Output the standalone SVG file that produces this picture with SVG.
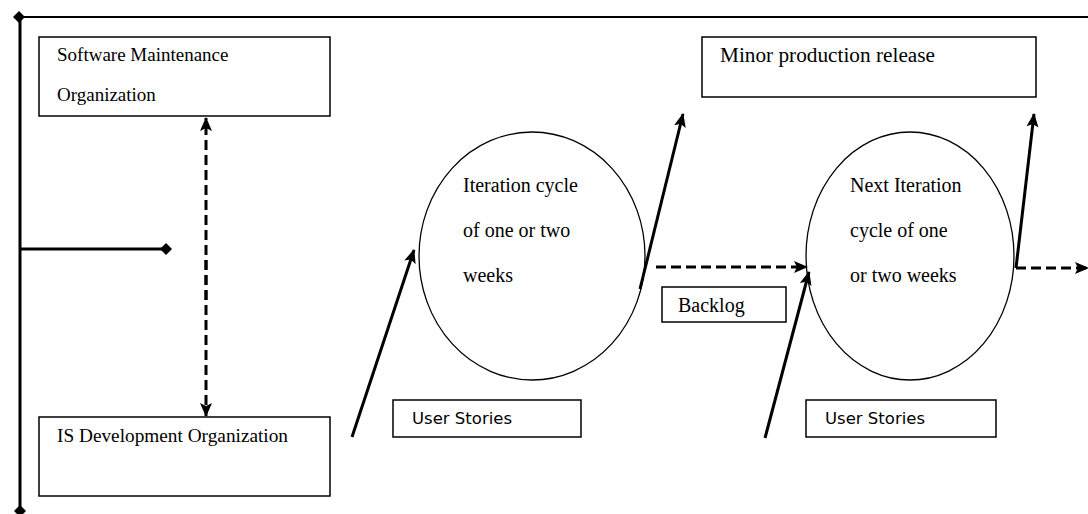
<svg xmlns="http://www.w3.org/2000/svg" width="1088" height="514" viewBox="0 0 1088 514">
<defs>
<marker id="ah" markerUnits="userSpaceOnUse" markerWidth="14" markerHeight="14" viewBox="0 0 14 14" refX="13" refY="7" orient="auto">
<path d="M0,1 L14,7 L0,13 L3,7 Z" fill="#000"/>
</marker>
<marker id="dm" markerUnits="userSpaceOnUse" markerWidth="12" markerHeight="12" viewBox="0 0 12 12" refX="6" refY="6" orient="auto">
<path d="M0,6 L6,0 L12,6 L6,12 Z" fill="#000"/>
</marker>
<style>
.box{fill:#fff;stroke:#000;stroke-width:1.5}
.ell{fill:none;stroke:#000;stroke-width:1.3}
.t{font-family:"Liberation Serif","Times New Roman",serif;font-size:20px;fill:#000}
.sm{font-size:19px}
.s{font-family:"DejaVu Sans","Liberation Sans",sans-serif;font-size:16.5px;fill:#000}
.solid{stroke:#000;stroke-width:3;fill:none}
.thin{stroke:#000;stroke-width:2;fill:none}
.dash{stroke:#000;stroke-width:3;fill:none;stroke-dasharray:10,5}
</style>
</defs>
<rect width="1088" height="514" fill="#fff"/>
<g id="connectors">
<path class="thin" d="M1088,17 L19,17" marker-end="url(#dm)"/>
<path class="solid" d="M20,17 L20,511" marker-end="url(#dm)"/>
<path class="solid" d="M20,249 L166,249" marker-end="url(#dm)"/>
<path class="dash" d="M206,300 L206,118" marker-end="url(#ah)"/>
<path class="dash" d="M206,260 L206,416" marker-end="url(#ah)"/>
<path class="solid" d="M352,437 L414,250" marker-end="url(#ah)"/>
<path class="solid" d="M640,289 L683,114" marker-end="url(#ah)"/>
<path class="dash" d="M656,267 L807,267" marker-end="url(#ah)"/>
<path class="solid" d="M765,438 L809,272" marker-end="url(#ah)"/>
<path class="solid" d="M1016,268 L1034,114" marker-end="url(#ah)"/>
<path class="dash" d="M1016,268 L1088,268" marker-end="url(#ah)"/>
</g>
<g id="software-maintenance">
<rect class="box" x="39" y="37" width="291" height="79"/>
<text class="t sm" x="57" y="61">Software Maintenance</text>
<text class="t sm" x="57" y="101">Organization</text>
</g>
<g id="is-development">
<rect class="box" x="39" y="417" width="291" height="79"/>
<text class="t sm" x="57" y="442" textLength="231" lengthAdjust="spacingAndGlyphs">IS Development Organization</text>
</g>
<g id="iteration-1">
<ellipse class="ell" cx="532" cy="256" rx="113" ry="124"/>
<text class="t" x="463" y="192">Iteration cycle</text>
<text class="t" x="463" y="237">of one or two</text>
<text class="t" x="463" y="282">weeks</text>
</g>
<g id="backlog">
<rect class="box" x="662" y="287" width="124" height="35"/>
<text class="t" x="678" y="312">Backlog</text>
</g>
<g id="user-stories-1">
<rect class="box" x="393" y="400" width="188" height="37"/>
<text class="s" x="412" y="424">User Stories</text>
</g>
<g id="minor-release">
<rect class="box" x="702" y="37" width="334" height="60"/>
<text class="t" x="720" y="62" textLength="215" lengthAdjust="spacingAndGlyphs">Minor production release</text>
</g>
<g id="iteration-2">
<ellipse class="ell" cx="910" cy="256" rx="104" ry="124"/>
<text class="t" x="850" y="192">Next Iteration</text>
<text class="t" x="850" y="237">cycle of one</text>
<text class="t" x="850" y="282">or two weeks</text>
</g>
<g id="user-stories-2">
<rect class="box" x="806" y="400" width="190" height="37"/>
<text class="s" x="825" y="424">User Stories</text>
</g>
</svg>
